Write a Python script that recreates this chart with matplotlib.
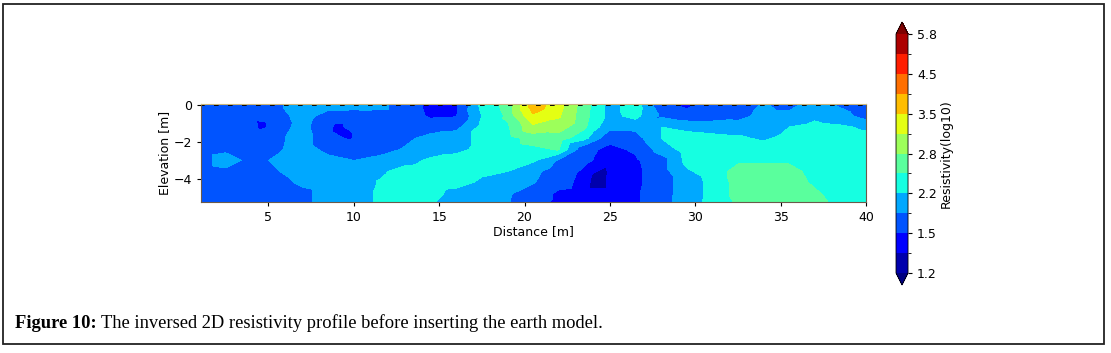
import numpy as np
import matplotlib
matplotlib.use("Agg")
import matplotlib.pyplot as plt
from matplotlib.colors import ListedColormap, BoundaryNorm
from matplotlib.patches import Rectangle

# profile geometry (m)
distance = [1.0, 2.5, 4.0, 5.5, 7.0, 8.5, 10.0, 11.5, 13.0, 14.5, 16.0, 17.5, 19.0,
            20.5, 22.0, 23.5, 25.0, 26.5, 28.0, 29.5, 31.0, 32.5, 34.0, 35.5, 37.0,
            38.5, 40.0]
elevation = [0.0, -0.6, -1.2, -1.8, -2.4, -3.0, -3.6, -4.2, -4.8, -5.2]

resistivity = [
    [1.68, 1.68, 1.68, 1.80, 2.00, 2.00, 2.00, 1.95, 1.68, 1.42, 1.45, 2.30, 2.60,
     3.70, 3.30, 2.62, 2.10, 2.35, 1.60, 1.42, 1.65, 1.70, 1.88, 1.75, 2.00, 1.80, 1.60],
    [1.68, 1.68, 1.60, 1.70, 2.00, 1.70, 1.65, 1.70, 1.68, 1.45, 1.48, 2.20, 2.55,
     3.45, 3.20, 2.60, 2.10, 2.30, 1.80, 1.65, 1.68, 1.75, 1.95, 1.95, 2.12, 2.00, 1.70],
    [1.70, 1.70, 1.65, 1.72, 1.95, 1.60, 1.60, 1.68, 1.68, 1.70, 1.75, 2.30, 2.45,
     3.05, 2.95, 2.55, 1.95, 1.95, 2.20, 2.10, 2.05, 2.00, 2.00, 2.20, 2.30, 2.25, 2.15],
    [1.70, 1.72, 1.72, 1.78, 2.00, 1.60, 1.55, 1.70, 1.78, 1.95, 2.05, 2.30, 2.40,
     2.60, 2.65, 2.30, 1.60, 1.70, 2.20, 2.35, 2.30, 2.25, 2.15, 2.30, 2.35, 2.35, 2.30],
    [1.70, 1.78, 1.75, 1.80, 2.00, 1.75, 1.70, 1.72, 1.88, 2.05, 2.10, 2.30, 2.40,
     2.45, 2.52, 1.60, 1.42, 1.55, 2.00, 2.35, 2.35, 2.35, 2.35, 2.35, 2.35, 2.35, 2.35],
    [1.72, 2.00, 1.75, 1.90, 2.00, 1.95, 1.85, 1.95, 2.10, 2.25, 2.35, 2.40, 2.35,
     2.25, 1.80, 1.55, 1.40, 1.45, 1.70, 2.30, 2.35, 2.45, 2.45, 2.45, 2.35, 2.35, 2.35],
    [1.70, 1.78, 1.70, 1.83, 2.00, 2.05, 2.05, 2.15, 2.30, 2.35, 2.35, 2.25, 2.20,
     1.95, 1.65, 1.45, 1.38, 1.42, 1.70, 2.15, 2.35, 2.60, 2.65, 2.60, 2.40, 2.35, 2.35],
    [1.70, 1.70, 1.70, 1.72, 1.92, 2.00, 2.05, 2.22, 2.35, 2.35, 2.30, 2.15, 2.00,
     1.88, 1.60, 1.42, 1.40, 1.42, 1.70, 2.00, 2.30, 2.60, 2.65, 2.65, 2.45, 2.35, 2.35],
    [1.70, 1.70, 1.70, 1.70, 1.75, 2.00, 2.05, 2.25, 2.35, 2.30, 2.10, 2.00, 1.90,
     1.65, 1.45, 1.40, 1.40, 1.45, 1.70, 2.00, 2.30, 2.60, 2.65, 2.65, 2.55, 2.35, 2.35],
    [1.70, 1.70, 1.70, 1.70, 1.75, 2.00, 2.05, 2.25, 2.35, 2.25, 2.05, 2.00, 1.88,
     1.60, 1.45, 1.42, 1.42, 1.45, 1.70, 2.05, 2.30, 2.55, 2.65, 2.65, 2.60, 2.40, 2.35],
]

# small isolated anomalies
spot_x = [4.6, 9.0, 9.8, 24.35]
spot_y = [-1.1, -1.2, -1.65, -4.0]
spot_v = [1.40, 1.42, 1.42, 1.25]

levels = [1.2, 1.35, 1.5, 1.85, 2.2, 2.5, 2.8, 3.15, 3.5, 4.0, 4.5, 5.15, 5.8]
tick_values = [1.2, 1.5, 2.2, 2.8, 3.5, 4.5, 5.8]


def main():
    gx, gy = np.meshgrid(distance, elevation)
    px = np.concatenate([gx.ravel(), spot_x])
    py = np.concatenate([gy.ravel(), spot_y])
    pv = np.concatenate([np.array(resistivity).ravel(), spot_v])

    jet = plt.get_cmap("jet")
    n = len(levels) - 1
    cmap = ListedColormap([jet((i + 0.5) / n) for i in range(n)])
    cmap.set_under(jet(0.0))
    cmap.set_over(jet(1.0))
    norm = BoundaryNorm(levels, n)

    fig = plt.figure(figsize=(11.11, 3.53), dpi=100)
    ax = fig.add_axes([0.1809, 0.4278, 0.5986, 0.2776])
    cs = ax.tricontourf(px, py, pv, levels=levels, cmap=cmap, norm=norm,
                        extend="both")
    ax.plot([distance[0], distance[-1]], [0, 0], color="black", lw=1.4,
            dashes=(2.4, 4.8))
    ax.set_xlim(1.05, 40)
    ax.set_ylim(-5.25, 0.05)
    ax.set_xticks([5, 10, 15, 20, 25, 30, 35, 40])
    ax.set_yticks([0, -2, -4])
    ax.tick_params(labelsize=9, length=3)
    ax.set_xlabel("Distance [m]", fontsize=9, labelpad=1)
    ax.set_ylabel("Elevation [m]", fontsize=9, labelpad=2)
    ax.spines["top"].set_color("#c8b478")
    for s in ["left", "right", "bottom"]:
        ax.spines[s].set_color("#6b5a4a")

    cax = fig.add_axes([0.8065, 0.1926, 0.0108, 0.745])
    cb = fig.colorbar(cs, cax=cax, ticks=tick_values)
    cb.ax.set_yticklabels([f"{t:.1f}" for t in tick_values])
    cb.ax.tick_params(labelsize=9, length=3)
    cb.set_label("Resistivity(log10)", fontsize=9, labelpad=2)
    cb.outline.set_linewidth(0.6)

    # caption: bold lead-in followed by plain text
    head = fig.text(0.0135, 0.07, "Figure 10:", fontsize=13.3,
                    fontweight="bold", family="Liberation Serif")
    fig.canvas.draw()
    bb = head.get_window_extent().transformed(fig.transFigure.inverted())
    fig.text(bb.x1 + 0.004, 0.07, "The inversed 2D resistivity profile before "
             "inserting the earth model.", fontsize=13.3,
             family="Liberation Serif")

    # page frame
    fig.patches.append(Rectangle((0.003, 0.026), 0.991, 0.962, fill=False,
                                 lw=1.3, edgecolor="#222222",
                                 transform=fig.transFigure, figure=fig))

    fig.savefig("out.png", dpi=100)


if __name__ == "__main__":
    main()
